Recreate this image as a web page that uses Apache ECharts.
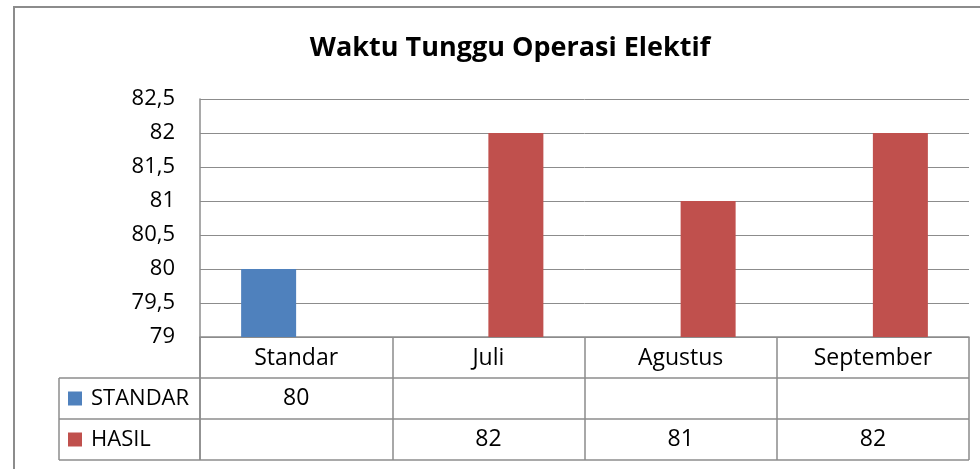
<!doctype html>
<html lang="id">
<head>
    <meta charset="UTF-8">
    <title>Waktu Tunggu Operasi Elektif</title>
    <script src="https://cdn.jsdelivr.net/npm/echarts@6/dist/echarts.min.js"></script>
    <style>
        html, body { margin: 0; padding: 0; background: #fff; }
        #main { width: 980px; height: 469px; }
    </style>
</head>
<body>
<div id="main"></div>
<script type="text/javascript">
    // data
    var categories = ['Standar', 'Juli', 'Agustus', 'September'];
    var standarValues = [80, null, null, null];
    var hasilValues = [null, 82, 81, 82];
    var seriesNames = ['STANDAR', 'HASIL'];
    var seriesColors = ['#4F81BD', '#C0504D'];
    var yMin = 79, yMax = 82.5, yStep = 0.5;

    var lineColor = '#8c8c8c';
    var fontName = 'Open Sans';
    var rowH = 41;

    var myChart = echarts.init(document.getElementById('main'));

    var option = {
        animation: false,
        title: {
            text: 'Waktu Tunggu Operasi Elektif',
            left: 505,
            textAlign: 'center',
            top: 30,
            textStyle: { fontFamily: fontName, fontSize: 27, fontWeight: 'bold', color: '#000' }
        },
        grid: { left: 200, right: 11, top: 99, bottom: 132, containLabel: false },
        xAxis: {
            type: 'category',
            data: categories,
            axisLine: { show: true, lineStyle: { color: lineColor, width: 1.5 } },
            axisTick: { show: true, length: rowH * 3, alignWithLabel: false, lineStyle: { color: lineColor, width: 1.5 } },
            axisLabel: { margin: 10, fontFamily: fontName, fontSize: 23, color: '#000' }
        },
        yAxis: {
            type: 'value',
            min: yMin,
            max: yMax,
            interval: yStep,
            axisLine: { show: true, lineStyle: { color: lineColor, width: 1.5 } },
            axisTick: { show: false },
            splitLine: { lineStyle: { color: lineColor, width: 1 } },
            axisLabel: {
                margin: 25,
                padding: [5, 0, 0, 0],
                fontFamily: fontName,
                fontSize: 22,
                color: '#000',
                formatter: function (v) { return String(v).replace('.', ','); }
            }
        },
        series: [
            { name: seriesNames[0], type: 'bar', data: standarValues, barWidth: 55, barGap: '0%', itemStyle: { color: seriesColors[0] } },
            { name: seriesNames[1], type: 'bar', data: hasilValues, barWidth: 55, barGap: '0%', itemStyle: { color: seriesColors[1] } }
        ]
    };
    myChart.setOption(option);

    // data table under the chart
    var buildTable = function () {
        var rect = myChart.getModel().getComponent('grid').coordinateSystem.getRect();
        var x0 = rect.x, x1 = rect.x + rect.width, yb = rect.y + rect.height;
        var keyLeft = 59;
        var rows = [standarValues, hasilValues];
        var els = [];
        // outer chart border
        els.push({ type: 'rect', shape: { x: 14, y: 7, width: 1000, height: 500 }, style: { fill: null, stroke: lineColor, lineWidth: 2 }, silent: true });
        // y axis line down through table
        els.push({ type: 'line', shape: { x1: x0, y1: yb, x2: x0, y2: yb + rowH * 3 }, style: { stroke: lineColor, lineWidth: 1.5 } });
        // left column border
        els.push({ type: 'line', shape: { x1: keyLeft, y1: yb + rowH, x2: keyLeft, y2: yb + rowH * 3 }, style: { stroke: lineColor, lineWidth: 1.5 } });
        for (var r = 1; r <= 3; r++) {
            els.push({ type: 'line', shape: { x1: keyLeft, y1: yb + rowH * r, x2: x1, y2: yb + rowH * r }, style: { stroke: lineColor, lineWidth: 1.5 } });
        }
        rows.forEach(function (vals, r) {
            var cy = yb + rowH * (r + 1) + rowH / 2;
            els.push({ type: 'rect', shape: { x: keyLeft + 9, y: cy - 7, width: 14, height: 14 }, style: { fill: seriesColors[r] } });
            els.push({ type: 'text', x: keyLeft + 32, y: cy, style: { text: seriesNames[r], fontFamily: fontName, fontSize: 22, fill: '#000', verticalAlign: 'middle', align: 'left' } });
            vals.forEach(function (v, i) {
                if (v === null) return;
                var cx = myChart.convertToPixel({ xAxisIndex: 0 }, i);
                els.push({ type: 'text', x: cx, y: cy, style: { text: String(v), fontFamily: fontName, fontSize: 23, fill: '#000', verticalAlign: 'middle', align: 'center' } });
            });
        });
        myChart.setOption({ graphic: els });
    };
    buildTable();
</script>
</body>
</html>
